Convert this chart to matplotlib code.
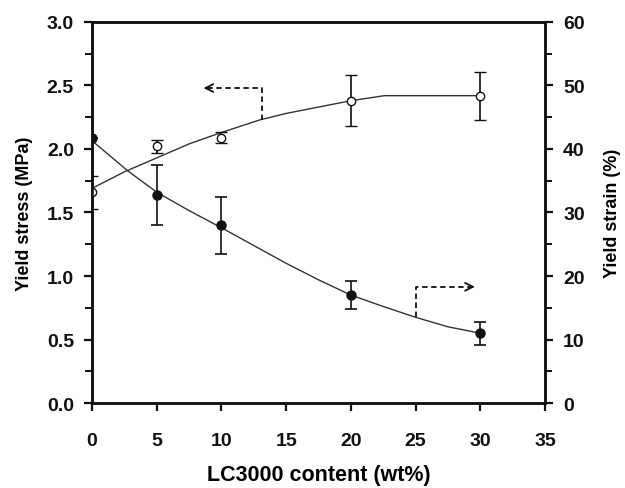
import matplotlib
matplotlib.use("Agg")
import matplotlib.pyplot as plt
from matplotlib.ticker import MultipleLocator

# Data
content = [0, 5, 10, 20, 30]
yield_stress = [1.66, 2.02, 2.09, 2.38, 2.42]        # MPa (open circles, left axis)
yield_stress_err = [0.13, 0.05, 0.04, 0.20, 0.19]
yield_strain = [41.8, 32.8, 28.0, 17.0, 11.0]        # % (filled circles, right axis)
yield_strain_err = [0.0, 4.7, 4.5, 2.2, 1.8]

# trend lines
stress_fit_x = [0, 2.5, 5, 7.5, 10, 13, 15, 17.5, 20, 22.6, 25, 30]
stress_fit_y = [1.69, 1.82, 1.93, 2.04, 2.13, 2.23, 2.28, 2.33, 2.38, 2.42, 2.42, 2.42]
strain_fit_x = [0, 2.8, 5, 7.5, 10, 12.5, 15, 17.5, 20, 22.5, 25, 27.5, 30]
strain_fit_y = [41.3, 36.5, 33.2, 30.3, 27.6, 24.8, 22.0, 19.4, 17.0, 15.2, 13.5, 12.0, 11.0]

plt.rcParams['font.family'] = ['Liberation Sans', 'DejaVu Sans']
plt.rcParams['font.weight'] = 'bold'

fig = plt.figure(figsize=(6.25, 4.89), dpi=100)
ax = fig.add_axes([0.1472, 0.1738, 0.7248, 0.7792])
ax2 = ax.twinx()

col = '#111111'
ax.plot(stress_fit_x, stress_fit_y, color='#333333', lw=1.0, zorder=2)
ax2.plot(strain_fit_x, strain_fit_y, color='#333333', lw=1.0, zorder=2)

ax.errorbar(content, yield_stress, yerr=yield_stress_err, fmt='o', mfc='white',
            mec=col, ms=6, mew=1.0, ecolor=col, elinewidth=1.2, capsize=4,
            capthick=1.2, zorder=3)
ax2.errorbar(content, yield_strain, yerr=yield_strain_err, fmt='o', mfc=col,
             mec=col, ms=6.5, ecolor=col, elinewidth=1.2, capsize=4,
             capthick=1.2, zorder=3)

# dashed indicator arrows
ax.plot([13.1, 13.1, 9.0], [2.23, 2.48, 2.48], ls=(0, (3, 2)), color=col, lw=1.3)
ax.annotate('', xy=(8.4, 2.48), xytext=(9.2, 2.48),
            arrowprops=dict(arrowstyle='->', color=col, lw=1.3, mutation_scale=14))
ax2.plot([25.0, 25.0, 29.2], [13.5, 18.3, 18.3], ls=(0, (3, 2)), color=col, lw=1.3)
ax2.annotate('', xy=(29.8, 18.3), xytext=(29.0, 18.3),
             arrowprops=dict(arrowstyle='->', color=col, lw=1.3, mutation_scale=14))

ax.set_xlim(0, 35)
ax.set_ylim(0, 3.0)
ax2.set_ylim(0, 60)

ax.xaxis.set_major_locator(MultipleLocator(5))
ax.yaxis.set_major_locator(MultipleLocator(0.5))
ax.yaxis.set_minor_locator(MultipleLocator(0.25))
ax2.yaxis.set_major_locator(MultipleLocator(10))
ax2.yaxis.set_minor_locator(MultipleLocator(5))
ax.yaxis.set_major_formatter(matplotlib.ticker.FormatStrFormatter('%.1f'))

for a in (ax, ax2):
    for s in a.spines.values():
        s.set_linewidth(1.8)
        s.set_color(col)
ax.tick_params(axis='both', which='major', direction='out', length=6, width=1.6,
               labelsize=14, colors=col, pad=7)
ax.tick_params(axis='y', which='minor', direction='out', length=5, width=1.4, colors=col)
ax2.tick_params(axis='y', which='major', direction='out', length=6, width=1.6,
                labelsize=14, colors=col, pad=7)
ax2.tick_params(axis='y', which='minor', direction='out', length=5, width=1.4, colors=col)
ax.tick_params(axis='x', pad=15)

ax.set_xlabel('LC3000 content (wt%)', fontsize=15.5, fontweight='bold', labelpad=11)
ax.set_ylabel('Yield stress (MPa)', fontsize=13, fontweight='bold', labelpad=10)
ax2.set_ylabel('Yield strain (%)', fontsize=13, fontweight='bold', labelpad=14)

fig.savefig('out.png', dpi=100)
